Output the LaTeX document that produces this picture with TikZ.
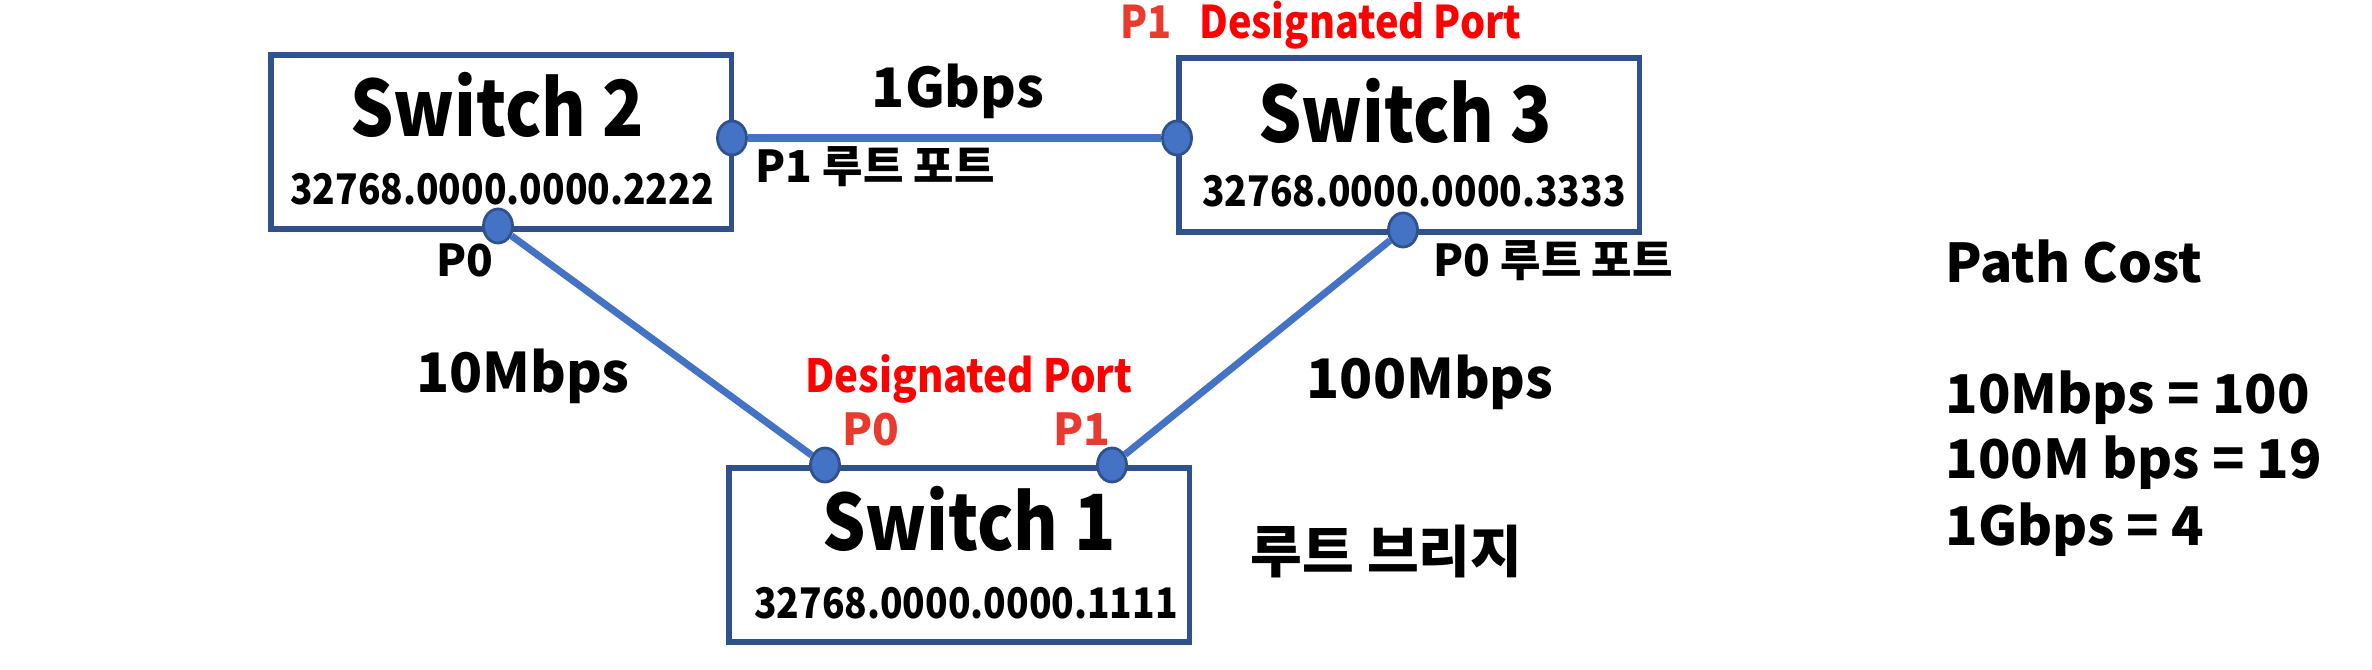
\documentclass[tikz,border=0pt]{standalone}
\usepackage{fontspec}
\setmainfont{Noto Sans CJK KR}
\newfontfamily\condfont{Noto Sans CJK KR}[FakeStretch=0.88]
\usetikzlibrary{positioning,shapes.geometric}
\usepackage{xcolor}
\definecolor{boxblue}{RGB}{47,82,143}
\definecolor{linkblue}{RGB}{68,114,196}
\definecolor{portred}{RGB}{232,58,46}

\begin{document}
\begin{tikzpicture}[x=0.01cm,y=-0.01cm,
    swbox/.style={rectangle,draw=boxblue,fill=white,line width=1.5pt,minimum width=4.6cm,minimum height=1.74cm},
    port/.style={ellipse,draw=boxblue,fill=linkblue,line width=0.8pt,minimum width=0.29cm,minimum height=0.34cm,inner sep=0pt},
    lnk/.style={linkblue,line width=2pt},
    txt/.style={anchor=base,inner sep=0pt},
    swname/.style={txt,font=\condfont\bfseries\fontsize{22}{26}\selectfont},
    swid/.style={txt,font=\condfont\bfseries\fontsize{12}{14}\selectfont},
    spd/.style={txt,font=\bfseries\fontsize{15.5}{18}\selectfont},
    plab/.style={txt,font=\bfseries\fontsize{12.5}{15}\selectfont},
    dplab/.style={txt,font=\condfont\bfseries\fontsize{13}{16}\selectfont},
    cost/.style={txt,anchor=base west,font=\bfseries\fontsize{15.2}{18}\selectfont}]
    \useasboundingbox (0,0) rectangle (2372,670);
    % switches
    \node[swbox] (sw2) at (501,142) {};
    \node[swbox] (sw3) at (1409,145) {};
    \node[swbox] (sw1) at (959,555) {};
    \node[swname] (sw2n) at (497,137) {Switch 2};
    \node[swname] (sw3n) at (1405,143) {Switch 3};
    \node[swname] (sw1n) at (969,550) {Switch 1};
    \node[swid] (sw2id) at (502,205) {32768.0000.0000.2222};
    \node[swid] (sw3id) at (1414,207) {32768.0000.0000.3333};
    \node[swid] (sw1id) at (966,618) {32768.0000.0000.1111};
    % ports
    \node[port] (s2p1) at (732,138) {};
    \node[port] (s3p1) at (1177,138) {};
    \node[port] (s2p0) at (498,226) {};
    \node[port] (s3p0) at (1403,230) {};
    \node[port] (s1p0) at (825,465) {};
    \node[port] (s1p1) at (1112,465) {};
    \foreach \a/\b in {s2p1/s3p1,s2p0/s1p0,s3p0/s1p1} {
      \draw[lnk] (\a) -- (\b);
    }
    % speeds
    \node[spd] (g1) at (958,108) {1Gbps};
    \node[spd] (m10) at (523,393) {10Mbps};
    \node[spd] (m100) at (1430,398) {100Mbps};
    % port roles
    \node[dplab,anchor=base west,font=\condfont\bfseries\fontsize{12.8}{15}\selectfont] (dp3) at (1120,39) {{\color{portred}P1}\ \ \ {\color{red}Designated Port}};
    \node[plab,anchor=base west] (rp2) at (755,183) {P1 루트 포트};
    \node[plab] (p02) at (465,277) {P0};
    \node[plab,anchor=base west] (rp3) at (1433,277) {P0 루트 포트};
    \node[dplab,red] (dp1) at (969,392) {Designated Port};
    \node[plab,portred] (p01) at (871,445) {P0};
    \node[plab,portred] (p11) at (1082,445) {P1};
    \node[txt,anchor=base west,font=\bfseries\fontsize{16}{19}\selectfont] (root) at (1250,572) {루트 브리지};
    % path cost
    \node[cost] (pc) at (1945,283) {Path Cost};
    \node[cost] (pc1) at (1945,413) {10Mbps = 100};
    \node[cost] (pc2) at (1945,478) {100M bps = 19};
    \node[cost] (pc3) at (1945,545) {1Gbps = 4};
\end{tikzpicture}
\end{document}
